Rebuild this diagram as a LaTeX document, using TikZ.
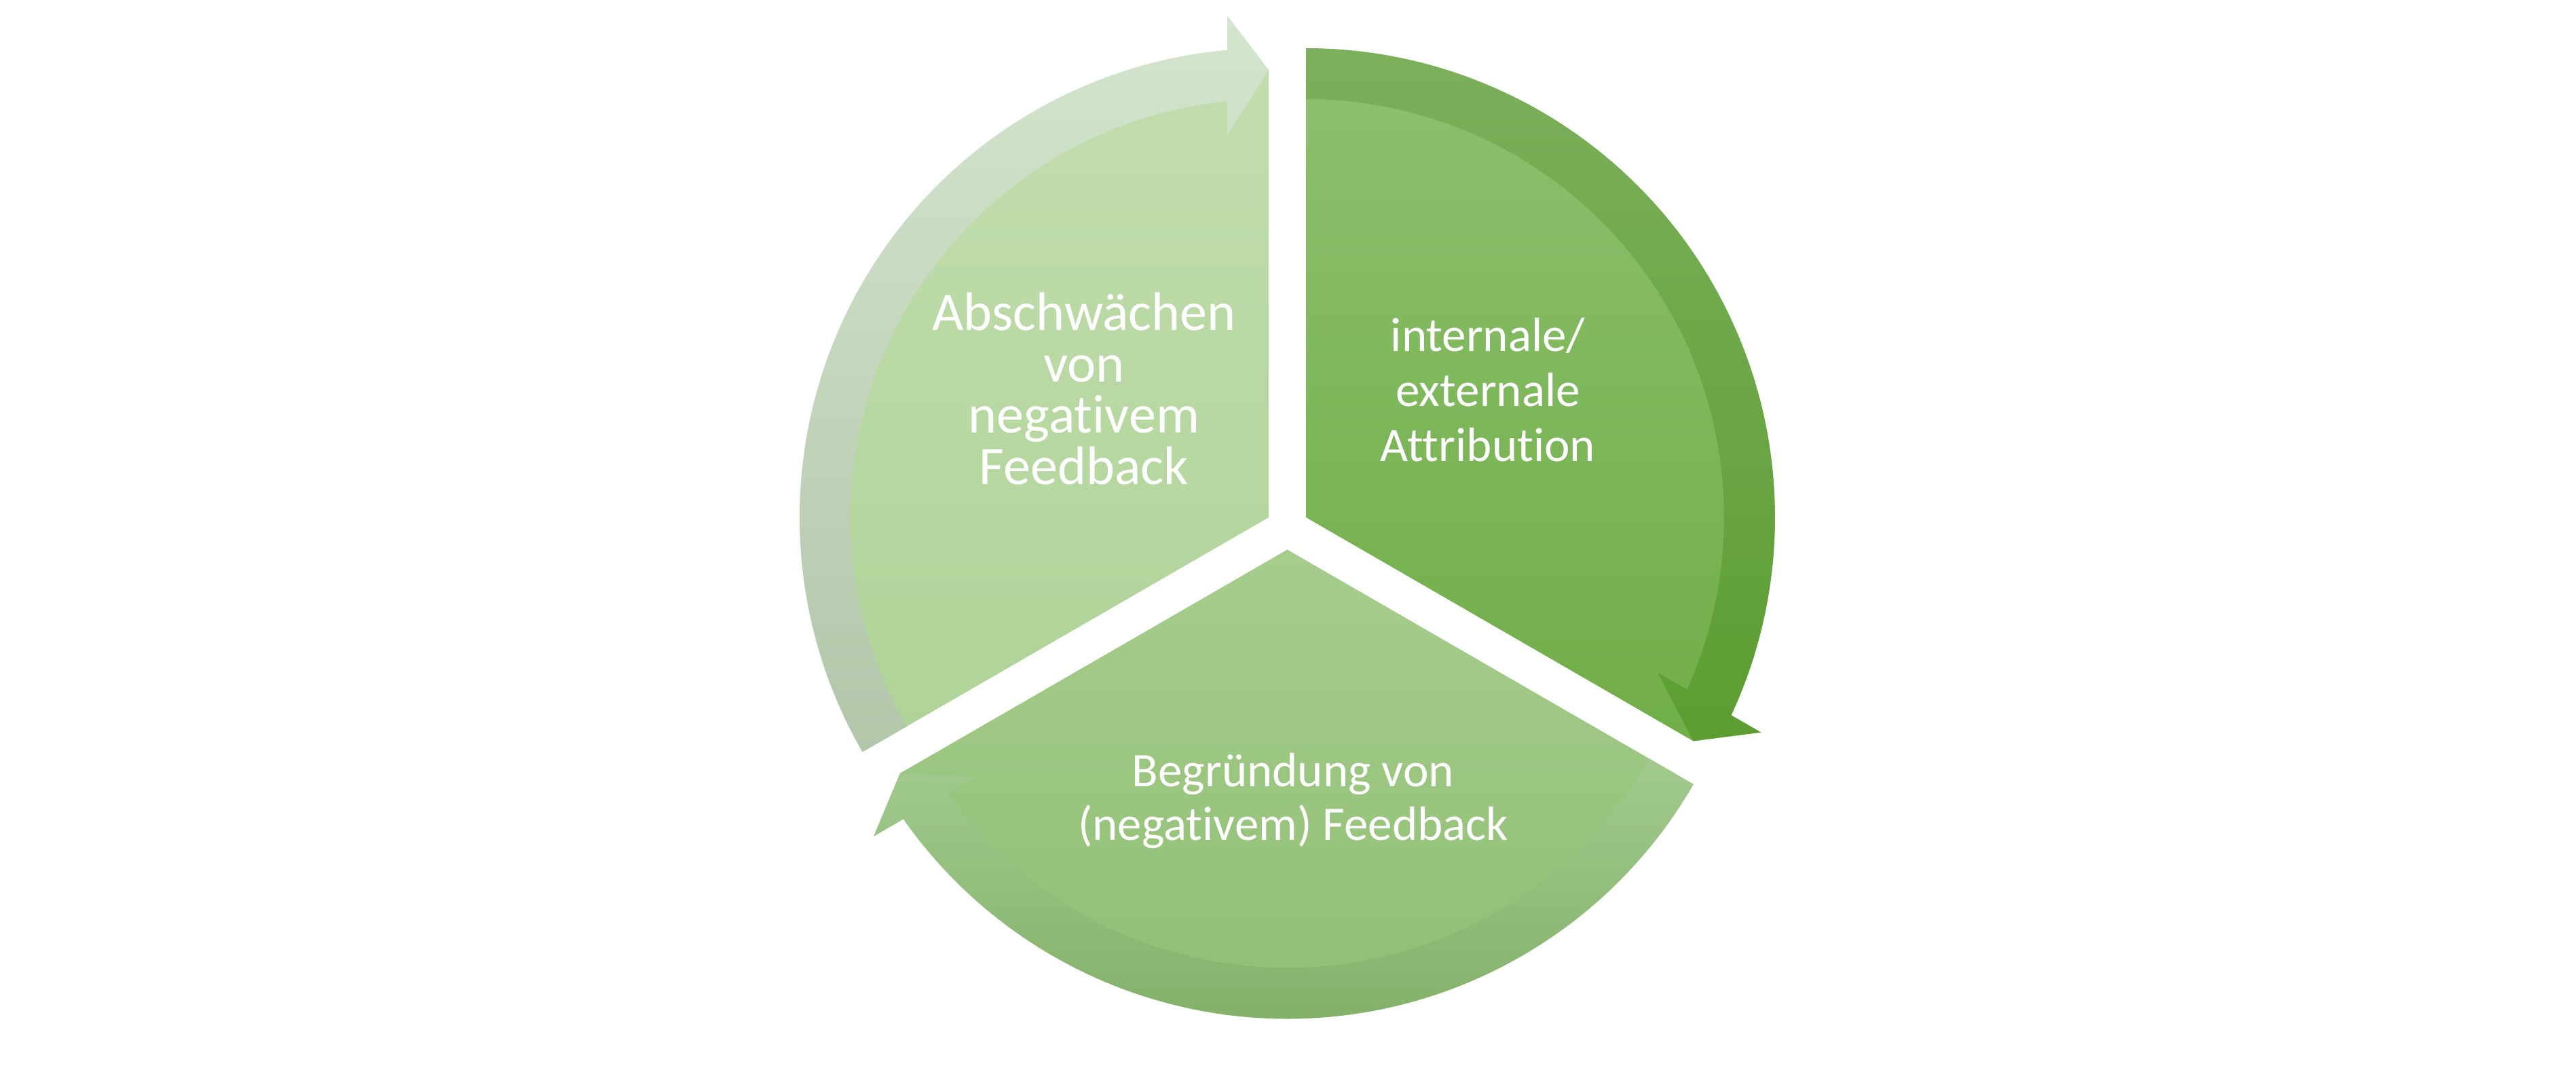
\documentclass[tikz,border=0pt]{standalone}
\usepackage{fontspec}
\setmainfont{Carlito}[Ligatures={NoCommon}]
\usetikzlibrary{calc}

% segment and arrow colours (top / bottom of each vertical shading)
\definecolor{rsegtop}{HTML}{8DC06E}
\definecolor{rsegbot}{HTML}{70AE48}
\definecolor{rarrtop}{HTML}{7CB05C}
\definecolor{rarrbot}{HTML}{5C9D31}
\definecolor{lsegtop}{HTML}{C2DDAD}
\definecolor{lsegbot}{HTML}{AFD398}
\definecolor{larrtop}{HTML}{D4E5CD}
\definecolor{larrbot}{HTML}{B2C6AA}
\definecolor{bsegtop}{HTML}{A6CD8D}
\definecolor{bsegbot}{HTML}{8DBD70}
\definecolor{barrtop}{HTML}{A2CA8F}
\definecolor{barrbot}{HTML}{83B169}

\tikzset{
  lbl/.style={text=white, anchor=base, inner sep=0pt},
  bigtext/.style={font=\fontsize{22.8}{27}\selectfont},
  smalltext/.style={font=\fontsize{20.2}{24}\selectfont},
}

% pie segment: centre, start angle, end angle, shading options
\newcommand\cyclesector[4]{%
  \path[#4] (#1) -- ($(#1)+(#2:6.59)$)
    arc[start angle=#2, end angle=#3, radius=6.59] -- cycle;}

% clockwise circular arrow: centre, start angle, tip angle, shading options
\newcommand\cyclearrow[4]{%
  \path[#4] ($(#1)+(#2:6.91)$)
    arc[start angle=#2, end angle={#3+5.06}, radius=6.91]
    -- ($(#1)+(#3:7.39)+({#3+90}:0.61)$)
    -- ($(#1)+(#3:6.59)$)
    -- ($(#1)+(#3:5.63)+({#3+90}:0.61)$)
    -- ($(#1)+({#3+5.68}:6.16)$)
    arc[start angle={#3+5.68}, end angle=#2, radius=6.16] -- cycle;}

\begin{document}
\begin{tikzpicture}
  \fill[white] (0,0) rectangle (37.95,-15.70);
  \useasboundingbox (0,0) rectangle (37.95,-15.70);

  % centres of the three exploded segments
  \coordinate (cr) at (19.24,-7.62);
  \coordinate (cl) at (18.69,-7.62);
  \coordinate (cb) at (18.965,-8.095);

  % segments
  \cyclesector{cr}{90}{-30}{top color=rsegtop, bottom color=rsegbot}
  \cyclesector{cl}{210}{90}{top color=lsegtop, bottom color=lsegbot}
  \cyclesector{cb}{330}{210}{top color=bsegtop, bottom color=bsegbot}

  % arrows along the rim
  \cyclearrow{cr}{90}{-30}{top color=rarrtop, bottom color=rarrbot}
  \cyclearrow{cl}{210}{90}{top color=larrtop, bottom color=larrbot}
  \cyclearrow{cb}{330}{210}{top color=barrtop, bottom color=barrbot}

  % labels
  \node[lbl, bigtext] (abs1) at (15.97,-4.86) {Abschwächen};
  \node[lbl, bigtext] (abs2) at (15.97,-5.62) {von};
  \node[lbl, bigtext] (abs3) at (15.97,-6.37) {negativem};
  \node[lbl, bigtext] (abs4) at (15.97,-7.13) {Feedback};

  \node[lbl, smalltext] (att1) at (21.92,-5.17) {internale/};
  \node[lbl, smalltext] (att2) at (21.92,-5.98) {externale};
  \node[lbl, smalltext] (att3) at (21.92,-6.79) {Attribution};

  \node[lbl, smalltext] (beg1) at (19.05,-11.58) {Begründung von};
  \node[lbl, smalltext] (beg2) at (19.05,-12.37) {(negativem) Feedback};
\end{tikzpicture}
\end{document}
